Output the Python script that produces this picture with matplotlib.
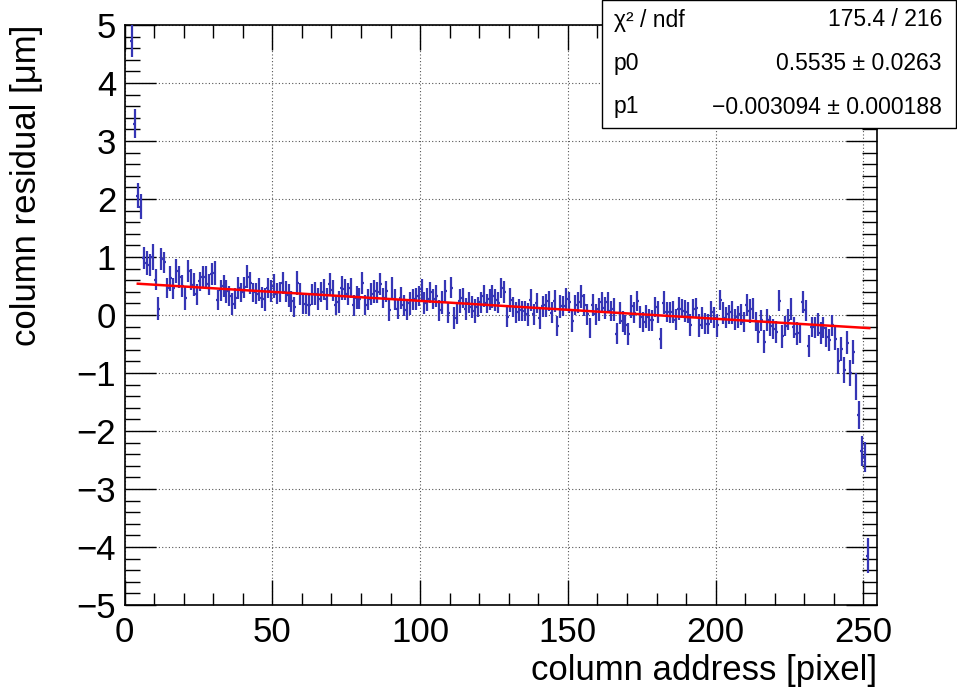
import numpy as np
import matplotlib
matplotlib.use('Agg')
from matplotlib import pyplot as plt
from matplotlib import font_manager
from matplotlib.patches import Rectangle

# column residual profile, first column = 2
first_col = 2
residual = [
    4.72, 3.30, 2.06, 1.87, 0.98, 0.90, 0.86, 1.00, 0.61, 0.11,
    0.97, 0.91, 0.46, 0.63, 0.46, 0.76, 0.66, 0.50, 0.29, 0.76,
    0.61, 0.52, 0.36, 0.58, 0.65, 0.65, 0.53, 0.71, 0.72, 0.26,
    0.43, 0.50, 0.41, 0.33, 0.19, 0.29, 0.46, 0.39, 0.48, 0.66,
    0.56, 0.39, 0.37, 0.44, 0.30, 0.27, 0.47, 0.41, 0.50, 0.37,
    0.40, 0.55, 0.40, 0.34, 0.24, 0.14, 0.55, 0.37, 0.19, 0.18,
    0.18, 0.36, 0.37, 0.28, 0.40, 0.44, 0.28, 0.53, 0.43, 0.17,
    0.23, 0.47, 0.44, 0.36, 0.46, 0.17, 0.30, 0.28, 0.56, 0.17,
    0.27, 0.36, 0.41, 0.39, 0.53, 0.29, 0.41, 0.08, 0.46, 0.27,
    0.10, 0.30, 0.17, 0.08, 0.20, 0.26, 0.27, 0.33, 0.44, 0.21,
    0.27, 0.39, 0.27, 0.32, 0.08, 0.22, 0.41, 0.03, 0.47, -0.05,
    0.03, 0.24, 0.29, 0.11, 0.21, 0.14, 0.07, 0.14, 0.22, 0.32,
    0.20, 0.27, 0.32, 0.26, 0.21, 0.46, 0.40, -0.03, 0.26, 0.14,
    0.05, 0.08, 0.07, 0.07, 0.01, 0.26, 0.01, 0.21, -0.05, 0.15,
    0.17, 0.24, 0.04, 0.24, -0.19, 0.15, 0.15, 0.28, 0.22, -0.11,
    0.17, 0.22, 0.32, 0.18, 0.01, -0.22, 0.18, 0.01, 0.10, 0.22,
    0.12, 0.22, 0.07, 0.10, -0.32, 0.03, -0.11, -0.17, -0.32, 0.15,
    0.04, 0.24, -0.03, -0.12, -0.03, -0.08, -0.09, 0.14, 0.05, -0.41,
    0.21, 0.05, 0.05, 0.05, -0.08, 0.11, 0.11, 0.07, 0.05, -0.18,
    0.11, 0.12, -0.18, -0.05, -0.15, -0.15, 0.05, -0.05, -0.18, 0.26,
    0.03, -0.05, 0.01, 0.05, -0.08, -0.03, 0.01, -0.12, 0.17, 0.07,
    0.11, -0.11, -0.30, -0.09, -0.46, -0.08, -0.19, -0.24, -0.30, 0.25,
    -0.37, -0.19, -0.08, 0.11, -0.21, -0.32, -0.31, 0.22, 0.08, -0.54,
    -0.21, -0.21, -0.17, -0.31, -0.22, -0.38, -0.43, -0.18, -0.41, -0.79,
    -0.59, -0.95, -0.48, -1.00, -0.64, -1.23, -1.72, -2.35, -2.45, -4.15,
]
residual_err = [
    0.28, 0.25, 0.22, 0.22, 0.19, 0.21, 0.19, 0.23, 0.18, 0.20,
    0.19, 0.18, 0.17, 0.22, 0.18, 0.20, 0.19, 0.19, 0.21, 0.19,
    0.18, 0.20, 0.18, 0.17, 0.19, 0.20, 0.18, 0.19, 0.21, 0.17,
    0.18, 0.19, 0.20, 0.17, 0.19, 0.18, 0.19, 0.16, 0.18, 0.20,
    0.19, 0.17, 0.18, 0.19, 0.18, 0.20, 0.17, 0.19, 0.21, 0.18,
    0.17, 0.19, 0.18, 0.20, 0.18, 0.17, 0.21, 0.19, 0.18, 0.17,
    0.19, 0.18, 0.20, 0.19, 0.17, 0.18, 0.19, 0.20, 0.18, 0.17,
    0.19, 0.21, 0.18, 0.19, 0.17, 0.18, 0.20, 0.18, 0.19, 0.17,
    0.18, 0.19, 0.20, 0.18, 0.19, 0.17, 0.18, 0.19, 0.20, 0.18,
    0.17, 0.19, 0.18, 0.17, 0.20, 0.18, 0.19, 0.17, 0.18, 0.19,
    0.20, 0.18, 0.17, 0.19, 0.18, 0.20, 0.19, 0.17, 0.18, 0.19,
    0.18, 0.20, 0.17, 0.19, 0.18, 0.19, 0.20, 0.17, 0.18, 0.19,
    0.17, 0.18, 0.20, 0.19, 0.18, 0.17, 0.19, 0.18, 0.20, 0.17,
    0.18, 0.19, 0.17, 0.18, 0.20, 0.19, 0.18, 0.17, 0.19, 0.18,
    0.20, 0.17, 0.18, 0.19, 0.18, 0.20, 0.17, 0.19, 0.18, 0.19,
    0.17, 0.18, 0.20, 0.19, 0.18, 0.17, 0.19, 0.18, 0.20, 0.17,
    0.19, 0.18, 0.17, 0.20, 0.18, 0.19, 0.18, 0.17, 0.19, 0.20,
    0.18, 0.17, 0.19, 0.18, 0.20, 0.19, 0.18, 0.17, 0.19, 0.18,
    0.20, 0.17, 0.18, 0.19, 0.18, 0.20, 0.17, 0.19, 0.18, 0.19,
    0.17, 0.18, 0.20, 0.19, 0.18, 0.17, 0.19, 0.18, 0.20, 0.17,
    0.19, 0.18, 0.17, 0.20, 0.18, 0.19, 0.18, 0.17, 0.19, 0.20,
    0.18, 0.17, 0.19, 0.18, 0.20, 0.19, 0.18, 0.17, 0.19, 0.18,
    0.20, 0.17, 0.18, 0.19, 0.18, 0.20, 0.17, 0.19, 0.18, 0.19,
    0.17, 0.18, 0.20, 0.19, 0.18, 0.17, 0.19, 0.18, 0.20, 0.22,
    0.21, 0.22, 0.20, 0.22, 0.21, 0.23, 0.24, 0.26, 0.26, 0.30,
]

# linear fit (stat box)
p0, p0_err = 0.5535, 0.0263
p1, p1_err = -0.003094, 0.000188
fit_range = [4.5, 252.0]
chi2, ndf = 175.4, 216

# fonts: ROOT-ish helvetica, narrow for the axis text if there is one
names = set(f.name for f in font_manager.fontManager.ttflist)
axis_font = 'Liberation Sans Narrow' if 'Liberation Sans Narrow' in names else 'Liberation Sans'
axis_size = 29 if axis_font == 'Liberation Sans Narrow' else 25
plt.rcParams['font.family'] = ['Liberation Sans', 'DejaVu Sans']

x = np.arange(len(residual)) + first_col + 0.5

fig = plt.figure(figsize=(9.57, 6.95), dpi=100)
ax = fig.add_axes([124.5 / 957, 1 - 605 / 695, (876.7 - 124.5) / 957, 580 / 695])

ax.errorbar(x, residual, yerr=residual_err, xerr=0.5, fmt='none',
            ecolor='#3535b5', elinewidth=1.6, capsize=0, zorder=3)
fx = np.array(fit_range)
ax.plot(fx, p0 + p1 * fx, color='#ff0000', lw=1.8, zorder=4)

ax.set_xlim(0, 254.5)
ax.set_ylim(-5, 5)
ax.set_xticks(range(0, 251, 50))
ax.set_xticks(range(0, 255, 10), minor=True)
ax.set_yticks(range(-5, 6))
ax.set_yticks(np.arange(-5, 5.01, 0.2), minor=True)
ax.grid(True, which='major', color='#555555', linestyle=(0, (1, 2)), lw=0.8)
ax.tick_params(which='both', direction='in', top=True, right=True, width=1)
ax.tick_params(axis='x', which='major', length=18, pad=8)
ax.tick_params(axis='x', which='minor', length=9)
ax.tick_params(axis='y', which='major', length=22, pad=6)
ax.tick_params(axis='y', which='minor', length=11)
for lab in ax.get_xticklabels() + ax.get_yticklabels():
    lab.set_fontfamily(axis_font)
    lab.set_fontsize(axis_size)
for s in ax.spines.values():
    s.set_linewidth(1.2)

ax.set_xlabel('column address [pixel]', fontfamily=axis_font, fontsize=axis_size)
ax.xaxis.set_label_coords(1.0, -0.085)
ax.xaxis.label.set_horizontalalignment('right')
ax.set_ylabel('column residual [μm]', fontfamily=axis_font, fontsize=axis_size)
ax.yaxis.set_label_coords(-0.108, 1.0)
ax.yaxis.label.set_horizontalalignment('right')

# stat box
fig.add_artist(Rectangle((602 / 957, 1 - 128 / 695), 354 / 957, 128 / 695,
                         transform=fig.transFigure, facecolor='white',
                         edgecolor='black', lw=1, zorder=5))
rows = [('χ² / ndf', '%.1f / %d' % (chi2, ndf)),
        ('p0', '%.4f ± %.4f' % (p0, p0_err)),
        ('p1', '−%.6f ± %.6f' % (-p1, p1_err))]
for i, (k, v) in enumerate(rows):
    yy = 1 - (20 + 43.5 * i) / 695
    fig.text(614 / 957, yy, k, fontsize=16.5, va='center', ha='left', zorder=6)
    fig.text(942 / 957, yy, v, fontsize=16.5, va='center', ha='right', zorder=6)

plt.savefig('out.png', dpi=100)
